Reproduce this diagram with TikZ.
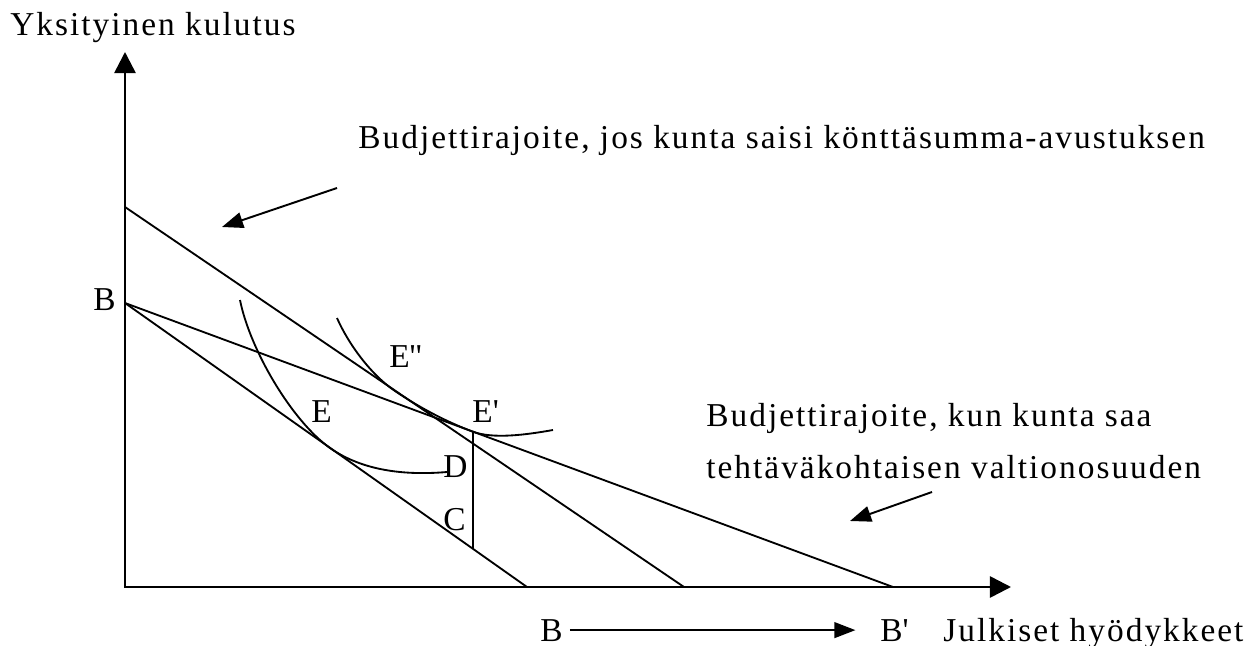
\documentclass[tikz,border=0pt]{standalone}
\usepackage{fontspec}
\setmainfont{Liberation Serif}[LetterSpace=6]
\usepackage{tikz}
\usetikzlibrary{arrows.meta}

\begin{document}
\begin{tikzpicture}[
    x=0.02cm, y=-0.02cm,
    font=\fontsize{19}{23}\selectfont,
    >={Triangle[length=12pt, width=9pt]},
    lbl/.style={inner sep=0pt, anchor=base west},
    budget/.style={line width=1.05pt},
    axisline/.style={line width=1.5pt, {Triangle[length=12pt, width=12pt]}-{Triangle[length=12pt, width=12pt]}},
    icurve/.style={line width=1.05pt},
    note/.style={->, line width=1.1pt},
]
\useasboundingbox (0,0) rectangle (1259,646);

% ── Axes ──
\coordinate (O) at (125,587);
\coordinate (ytop) at (125,52);
\coordinate (xend) at (1011,587);
\draw[axisline] (ytop) -- (O) -- (xend);
\node[lbl] (ylabel) at (10,35) {Yksityinen kulutus};
\node[lbl] (xlabel) at (943,641) {Julkiset hyödykkeet};

% ── Budget lines ──
\coordinate (B) at (125,303);
\coordinate (L0) at (125,207);
\coordinate (L1) at (684,587);
\coordinate (Bs) at (527,587);
\coordinate (Bf) at (893,587);
\draw[budget] (L0) -- (L1);
\draw[budget] (B) -- (Bs);
\draw[budget] (B) -- (Bf);
\node[lbl] (lB) at (93,310) {B};

% ── Indifference curves ──
\coordinate (ic1a) at (240,300);
\coordinate (E) at (330,448);
\coordinate (ic1b) at (447,472);
\draw[icurve] (ic1a) .. controls (250,350) and (292,421) .. (E)
    .. controls (360,469) and (400,476) .. (ic1b);
\coordinate (ic2a) at (337,318);
\coordinate (Epp) at (395,391);
\coordinate (Ep) at (473,431.7);
\coordinate (ic2b) at (553,430);
\draw[icurve] (ic2a) .. controls (348,343) and (370,374) .. (Epp)
    .. controls (420,408) and (448,422.5) .. (Ep)
    .. controls (493,439.1) and (525,435) .. (ic2b);

% ── Vertical E'--C ──
\coordinate (C) at (473,549);
\draw[budget] (Ep) -- (C);

% ── Point labels ──
\node[lbl] (lE) at (311,422) {E};
\node[lbl] (lEpp) at (389,367) {E\textquotesingle\textquotesingle};
\node[lbl] (lEp) at (472,422) {E\textquotesingle};
\node[lbl] (lD) at (443,477) {D};
\node[lbl] (lC) at (443,530) {C};

% ── Notes with arrows ──
\node[lbl] (lumpnote) at (358,148) {Budjettirajoite, jos kunta saisi könttäsumma-avustuksen};
\coordinate (a1s) at (337,188);
\coordinate (a1e) at (222,227);
\draw[note] (a1s) -- (a1e);

\node[lbl] (matchnote) at (706,426) {Budjettirajoite, kun kunta saa};
\node[lbl] (matchnote2) at (706,478) {tehtäväkohtaisen valtionosuuden};
\coordinate (a2s) at (932,492);
\coordinate (a2e) at (850,521);
\draw[note] (a2s) -- (a2e);

% ── B to B' shift ──
\node[lbl] (bB) at (540,641) {B};
\node[lbl] (bBp) at (880,641) {B\textquotesingle};
\draw[->, budget, shorten <=4pt, shorten >=14pt] (bB) -- (bBp);
\end{tikzpicture}
\end{document}
